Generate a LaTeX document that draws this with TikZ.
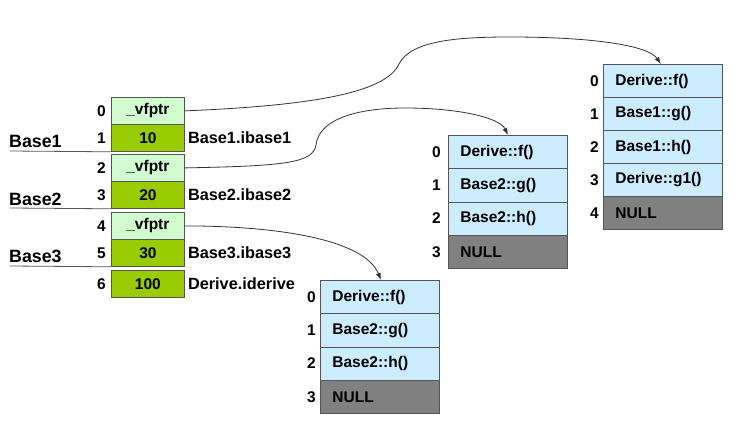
\documentclass[tikz,border=0pt]{standalone}
\usepackage{fontspec}
\setmainfont{Liberation Sans}
\usetikzlibrary{arrows.meta}
\definecolor{lgreen}{RGB}{208,252,208}
\definecolor{dgreen}{RGB}{153,204,0}
\definecolor{lblue}{RGB}{204,236,255}
\definecolor{nullgray}{RGB}{128,128,128}
\definecolor{edge}{RGB}{85,85,85}
\begin{document}
\begin{tikzpicture}[x=1pt,y=-1pt,
  every node/.style={font=\fontsize{15.5}{17}\selectfont\bfseries, text=black},
  memcell/.style={draw=edge, line width=0.8pt, minimum width=73pt, minimum height=27pt, inner sep=0pt, anchor=north west},
  vfcell/.style={memcell, fill=lgreen},
  valcell/.style={memcell, fill=dgreen},
  tabcell/.style={draw=edge, line width=0.8pt, fill=lblue, minimum width=119pt, minimum height=33.25pt, inner xsep=12pt, inner ysep=0pt, text width=95pt, align=left, anchor=north west},
  nullcell/.style={tabcell, fill=nullgray},
  idx/.style={anchor=east, inner sep=0pt},
  side/.style={anchor=west, inner sep=0pt, font=\fontsize{16.3}{18}\selectfont\bfseries},
  baselab/.style={anchor=west, inner sep=0pt, font=\fontsize{17.8}{19}\selectfont\bfseries},
  uline/.style={draw=edge, line width=0.8pt},
  ptr/.style={draw=black!80, line width=0.8pt, -{Latex[length=7pt,width=5pt]}}
]
\useasboundingbox (0,0) rectangle (738,422);
\fill[white] (0,0) rectangle (738,422);

% memory column
\node[vfcell]  (r0) at (111,97)  {\_vfptr};
\node[valcell] (r1) at (111,124) {10};
\node[vfcell]  (r2) at (111,154) {\_vfptr};
\node[valcell] (r3) at (111,181) {20};
\node[vfcell]  (r4) at (111,212) {\_vfptr};
\node[valcell] (r5) at (111,239) {30};
\node[valcell] (r6) at (111,270) {100};
\foreach \i in {0,...,6} {
  \node[idx] (i\i) at ([xshift=-5pt]r\i.west) {\i};
}
\node[side] (s1) at ([xshift=3pt]r1.east) {Base1.ibase1};
\node[side] (s3) at ([xshift=3pt]r3.east) {Base2.ibase2};
\node[side] (s5) at ([xshift=3pt]r5.east) {Base3.ibase3};
\node[side] (s6) at ([xshift=3pt]r6.east) {Derive.iderive};

\node[baselab] (b1) at (9,141) {Base1};
\node[baselab] (b2) at (9,199) {Base2};
\node[baselab] (b3) at (9,256) {Base3};
\coordinate (u1) at (10,151);
\coordinate (u2) at (10,208);
\coordinate (u3) at (10,266);
\draw[uline] (u1) -- (r1.south west);
\draw[uline] (u2) -- (r3.south west);
\draw[uline] (u3) -- (r5.south west);

% table 1 (middle)
\node[tabcell]  (a0) at (448,135)    {Derive::f()};
\node[tabcell]  (a1) at (448,168.25) {Base2::g()};
\node[tabcell]  (a2) at (448,201.5)  {Base2::h()};
\node[nullcell] (a3) at (448,234.75) {NULL};
\foreach \i in {0,...,3} { \node[idx] (ai\i) at ([xshift=-7pt]a\i.west) {\i}; }

% table 2 (right)
\node[tabcell]  (c0) at (603,64)  {Derive::f()};
\node[tabcell]  (c1) at (603,97)  {Base1::g()};
\node[tabcell]  (c2) at (603,130) {Base1::h()};
\node[tabcell]  (c3) at (603,163) {Derive::g1()};
\node[nullcell, minimum height=33pt] (c4) at (603,196) {NULL};
\foreach \i in {0,...,4} { \node[idx] (ci\i) at ([xshift=-4pt]c\i.west) {\i}; }

% table 3 (bottom)
\node[tabcell, minimum width=118pt]  (d0) at (320,280)    {Derive::f()};
\node[tabcell, minimum width=118pt]  (d1) at (320,313.25) {Base2::g()};
\node[tabcell, minimum width=118pt]  (d2) at (320,346.5)  {Base2::h()};
\node[nullcell, minimum width=118pt] (d3) at (320,379.75) {NULL};
\foreach \i in {0,...,3} { \node[idx] (di\i) at ([xshift=-4pt]d\i.west) {\i}; }

% pointers
\draw[ptr] (r0.east) .. controls (300,106) and (385,95) .. (399,64)
  .. controls (411,40) and (460,37) .. (510,37)
  .. controls (590,37) and (648,45) .. ([xshift=-2pt]c0.north);
\draw[ptr] (r2.east) .. controls (285,166) and (313,163) .. (316,145)
  .. controls (319,118) and (360,108) .. (405,108)
  .. controls (460,108) and (500,118) .. ([xshift=0pt]a0.north);
\draw[ptr] (r4.east) .. controls (280,226) and (365,240) .. ([xshift=1pt]d0.north);
\end{tikzpicture}
\end{document}
